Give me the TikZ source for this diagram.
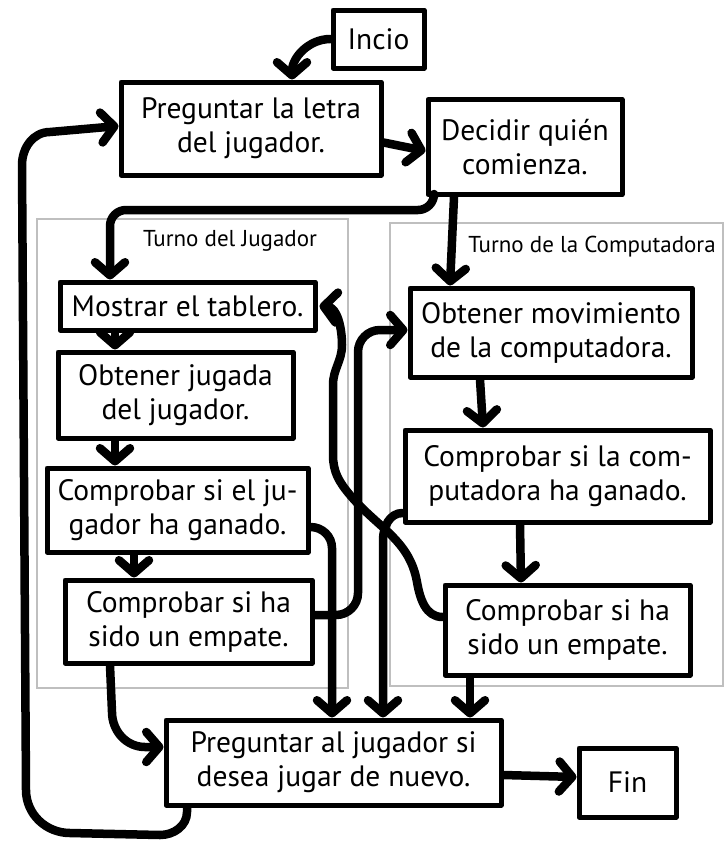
\documentclass[tikz,border=0pt]{standalone}
\usepackage{fontspec}
\setmainfont{PT Sans}
\usetikzlibrary{arrows.meta}

\tikzset{
  box/.style={draw=black, line width=5pt, line join=round, fill=white,
    rectangle, inner sep=0pt, align=center,
    font=\fontsize{29.5}{34}\selectfont},
  conn/.style={draw=black, line width=8.5pt, line cap=round, line join=round,
    -{Straight Barb[length=13pt,width=30pt,round]}},
  frame/.style={draw=black!25, line width=2pt},
  framelabel/.style={font=\fontsize{23}{26}\selectfont, inner sep=0pt}
}

\begin{document}
\begin{tikzpicture}[x=1pt,y=-1pt]
\useasboundingbox (0,0) rectangle (724,846);

% swim-lane frames
\draw[frame] (37,219) rectangle (348,688);
\draw[frame] (390,223) rectangle (723,686);
\node[framelabel] (lblj) at (230,241) {Turno del Jugador};
\node[framelabel] (lblc) at (592,247) {Turno de la Computadora};

% boxes
\node[box, minimum width=91, minimum height=58] (inicio) at (378.5,39) {Incio};
\node[box, minimum width=260, minimum height=93] (preg) at (251,128.5) {Preguntar la letra\\del jugador.};
\node[box, minimum width=194, minimum height=95] (dec) at (525,147) {Decidir quién\\comienza.};
\node[box, minimum width=255, minimum height=48] (mos) at (187.5,306) {Mostrar el tablero.};
\node[box, minimum width=235, minimum height=86] (ojug) at (175.5,395) {Obtener jugada\\del jugador.};
\node[box, minimum width=261, minimum height=84] (cjg) at (177.5,510) {Comprobar si el ju-\\gador ha ganado.};
\node[box, minimum width=247, minimum height=83] (empL) at (188.5,621.5) {Comprobar si ha\\sido un empate.};
\node[box, minimum width=282, minimum height=89] (omov) at (551,332.5) {Obtener movimiento\\de la computadora.};
\node[box, minimum width=305, minimum height=92] (ccg) at (557.5,476) {Comprobar si la com-\\putadora ha ganado.};
\node[box, minimum width=245, minimum height=90] (empR) at (567.5,630) {Comprobar si ha\\sido un empate.};
\node[box, minimum width=335, minimum height=85] (pfin) at (333.5,762.5) {Preguntar al jugador si\\desea jugar de nuevo.};
\node[box, minimum width=97, minimum height=69] (fin) at (627.5,782.5) {Fin};

% connectors
\draw[conn] (inicio.west) to[out=180,in=90] ([xshift=41]preg.north);
\draw[conn] ([yshift=-14]preg.east) -- ([yshift=-4]dec.west);

\coordinate (j1) at (110,210);
\draw[conn, rounded corners=16] ([xshift=-91]dec.south) |- (j1) -- (j1 |- mos.north);
\draw[conn] ([xshift=-71]dec.south) -- ([xshift=-101]omov.north);

\draw[conn] ([xshift=-72.5]mos.south) -- ([xshift=-60.5]ojug.north);
\draw[conn] ([xshift=-60.5]ojug.south) -- ([xshift=-62.5]cjg.north);
\draw[conn] ([xshift=-43.5]cjg.south) -- ([xshift=-54.5]empL.north);

\coordinate (c8) at (332,548);
\draw[conn] ([yshift=-17]cjg.east) to[out=0,in=90] (c8) -- (c8 |- pfin.north);

\coordinate (c9) at (358,330);
\draw[conn, rounded corners=22] ([yshift=6.5]empL.east) -| (c9) -- ([yshift=2.5]omov.west);

\draw[conn] ([yshift=13]empR.west) to[out=180,in=-80] (417,582)
  to[out=100,in=-50] (350,495) to[out=130,in=-90] (333,455) -- (333,385)
  to[out=90,in=-90] (342,345) to[out=90,in=-5] ([xshift=2]mos.east);

\coordinate (c11) at (383,540);
\draw[conn] ([yshift=-37]ccg.west) to[out=180,in=90] (c11) -- (c11 |- pfin.north);

\draw[conn] ([xshift=-71]omov.south) -- ([xshift=-74.5]ccg.north);
\draw[conn] ([xshift=-37.5]ccg.south) -- ([xshift=-46.5]empR.north);
\draw[conn] ([xshift=-97.5]empR.south) -- ([xshift=136.5]pfin.north);

\draw[conn] ([xshift=-78.5]empL.south) -- (112,712) to[out=-90,in=180] (145,747) -- ([yshift=15.5]pfin.west);
\draw[conn] ([yshift=-12.5]pfin.east) -- ([yshift=5.5]fin.west);

\draw[conn] ([xshift=-146.5]pfin.south) -- (187,812) to[out=-90,in=0] (160,835)
  -- (70,833) to[out=180,in=-90] (26,790) -- (22,165) to[out=90,in=180] (50,132)
  -- ([yshift=2.5]preg.west);
\end{tikzpicture}
\end{document}
